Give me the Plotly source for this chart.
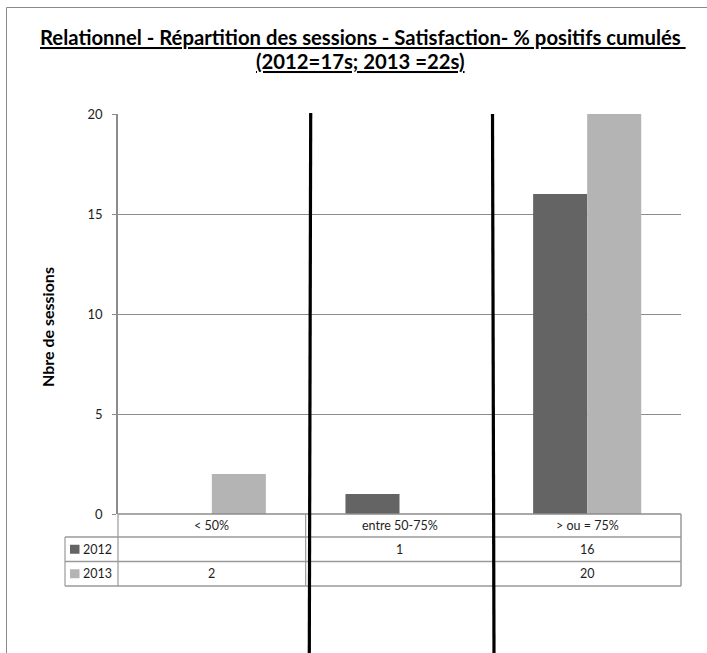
import plotly.graph_objects as go

# Data
categories = ["< 50%", "entre 50-75%", "> ou = 75%"]
series_names = ["2012", "2013"]
values_2012 = [None, 1, 16]
values_2013 = [2, None, 20]
y_ticks = [0, 5, 10, 15, 20]

colors = {"2012": "#646464", "2013": "#b4b4b4"}

W, H = 707, 653
PL, PR, PT, PB = 118, 681, 114, 514  # plot area in pixels

def px(x):
    return (x - PL) / (PR - PL)

def py(y):
    return (PB - y) / (PB - PT)

FONT = "Lato"
TXT = "#1e1e1e"
GRID = "#8c8c8c"
TAB = "#9a9a9a"

fig = go.Figure()
for name, vals in zip(series_names, [values_2012, values_2013]):
    fig.add_trace(go.Bar(
        x=categories, y=vals, name=name,
        marker=dict(color=colors[name], line=dict(width=0)),
    ))

shapes = []
def line(x0, y0, x1, y1, color, width):
    shapes.append(dict(type="line", xref="paper", yref="paper",
                       x0=px(x0), y0=py(y0), x1=px(x1), y1=py(y1),
                       line=dict(color=color, width=width), layer="above"))

def label(x, y, text, size=12.5, color=TXT, xref="paper", xanchor="center", **kw):
    return dict(x=x, xref=xref, y=y, yref="paper", xanchor=xanchor, yanchor="middle",
                text=text, showarrow=False, font=dict(size=size, color=color, family=FONT), **kw)

# outer chart border (left and top edges visible)
line(6.5, 7.5, 6.5, 660, "#8a8a8a", 1)
line(6.5, 7.5, 720, 7.5, "#8a8a8a", 1)

# data table grid
row_y = [514, 537, 561.5, 586]
legend_left = 65
for y in row_y[1:]:
    line(legend_left, y, PR, y, TAB, 1.5)
line(PL, row_y[0], PR, row_y[0], GRID, 1.5)
line(legend_left, row_y[1], legend_left, row_y[3], TAB, 1.2)
line(PL, row_y[0], PL, row_y[3], TAB, 1.2)
line(PR, row_y[0], PR, row_y[3], TAB, 1.5)
ncat = len(categories)
for k in range(1, ncat):
    xk = PL + (PR - PL) * k / ncat
    line(xk, row_y[0], xk, row_y[3], TAB, 1.2)

annotations = []
# category header row and value rows
row_centers = [(row_y[i] + row_y[i + 1]) / 2 for i in range(3)]
for cat in categories:
    annotations.append(label(cat, py(row_centers[0]), cat, xref="x"))
for r, (name, vals) in enumerate(zip(series_names, [values_2012, values_2013])):
    yc = py(row_centers[r + 1])
    for cat, v in zip(categories, vals):
        if v is not None:
            annotations.append(label(cat, yc, str(v), xref="x"))
    # legend key + series name
    shapes.append(dict(type="rect", xref="paper", yref="paper",
                       x0=px(70), x1=px(79.5), y0=py(row_centers[r + 1] + 4.5), y1=py(row_centers[r + 1] - 4.5),
                       fillcolor=colors[name], line=dict(width=0), layer="above"))
    annotations.append(label(px(81), yc, name, xanchor="left"))

# thick separators between the groups
line(310.7, 113, 309.3, 653, "#000000", 3.2)
line(492.5, 114, 494, 653, "#000000", 3.2)

# axis title
annotations.append(label(px(47), py(327), "<b>Nbre de sessions</b>", size=16, color="#000000",
                         textangle=-90))

# title
t1 = label(px(363), py(37), "<b>Relationnel - Répartition des sessions - Satisfaction- % positifs cumulés </b>",
           size=20.3, color="#000000")
t1["font"]["lineposition"] = "under"
t2 = label(px(360), py(61), "<b>(2012=17s; 2013 =22s)</b>", size=20.3, color="#000000")
t2["font"]["lineposition"] = "under"
annotations += [t1, t2]

fig.update_layout(
    width=W, height=H,
    margin=dict(l=PL, r=W - PR, t=PT, b=H - PB, pad=0),
    paper_bgcolor="white", plot_bgcolor="white",
    barmode="group", bargap=0.424, bargroupgap=0,
    showlegend=False,
    shapes=shapes, annotations=annotations,
    font=dict(family=FONT, color=TXT, size=12.5),
    xaxis=dict(showticklabels=False, showgrid=False, ticks="", showline=False, zeroline=False,
               range=[-0.5, ncat - 0.5]),
    yaxis=dict(range=[0, 20], tickvals=y_ticks, showgrid=True, gridcolor=GRID, gridwidth=1.2,
               ticks="outside", ticklen=4, tickcolor=GRID, showline=True, linecolor=GRID, linewidth=1.5,
               zeroline=False, ticklabelstandoff=7,
               tickfont=dict(size=13, color=TXT, family=FONT)),
)

fig.write_html("out.html")
